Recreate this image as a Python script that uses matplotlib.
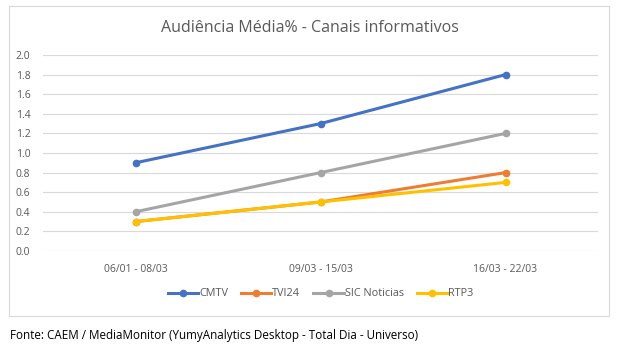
import matplotlib.pyplot as plt
import numpy as np
from matplotlib.patches import Rectangle

plt.rcParams['font.family'] = ['Open Sans', 'DejaVu Sans']

periods = ['06/01 - 08/03', '09/03 - 15/03', '16/03 - 22/03']
cmtv = [0.9, 1.3, 1.8]
tvi24 = [0.3, 0.5, 0.8]
sic = [0.4, 0.8, 1.2]
rtp3 = [0.3, 0.5, 0.7]
series = ['CMTV', 'TVI24', 'SIC Noticias', 'RTP3']
colors = ['#4472C4', '#ED7D31', '#A5A5A5', '#FFC000']

fig = plt.figure(figsize=(6.2, 3.52), dpi=100)
fig.patches.append(Rectangle((9 / 620, 1 - 316 / 352), 600 / 620, 310 / 352,
                             transform=fig.transFigure, fill=False,
                             edgecolor='#D9D9D9', linewidth=0.8))

ax = fig.add_axes([43 / 620, 1 - 251 / 352, 555 / 620, 196 / 352])
x = np.arange(len(periods))
for name, vals, c in zip(series, [cmtv, tvi24, sic, rtp3], colors):
    ax.plot(x, vals, color=c, linewidth=2.2, marker='o', markersize=4.5, label=name)

ax.set_xlim(-0.5, 2.5)
ax.set_ylim(0, 2.0)
ax.set_yticks(np.arange(0, 2.01, 0.2))
ax.set_yticklabels([f'{v:.1f}' for v in np.arange(0, 2.01, 0.2)])
ax.set_xticks(x)
ax.set_xticklabels(periods)
ax.tick_params(length=0, labelsize=7.5, colors='#595959', pad=9)
ax.tick_params(axis='y', pad=9)
ax.grid(axis='y', color='#D9D9D9', linewidth=0.8)
ax.set_axisbelow(True)
for s in ax.spines.values():
    s.set_visible(False)

fig.text(0.5, 1 - 28 / 352, 'Audiência Média% - Canais informativos', ha='center', va='center',
         fontsize=11.5, color='#595959')
ax.legend(loc='center', bbox_to_anchor=(0.5, (251 - 294) / 196), ncol=4, frameon=False,
          fontsize=7.8, labelcolor='#595959', handlelength=2.8, columnspacing=1.2, handletextpad=0.1)
fig.text(10 / 620, 1 - 335 / 352, 'Fonte: CAEM / MediaMonitor (YumyAnalytics Desktop - Total Dia - Universo)',
         ha='left', va='center', fontsize=8.4, color='black')

fig.savefig('out.png', dpi=100)
